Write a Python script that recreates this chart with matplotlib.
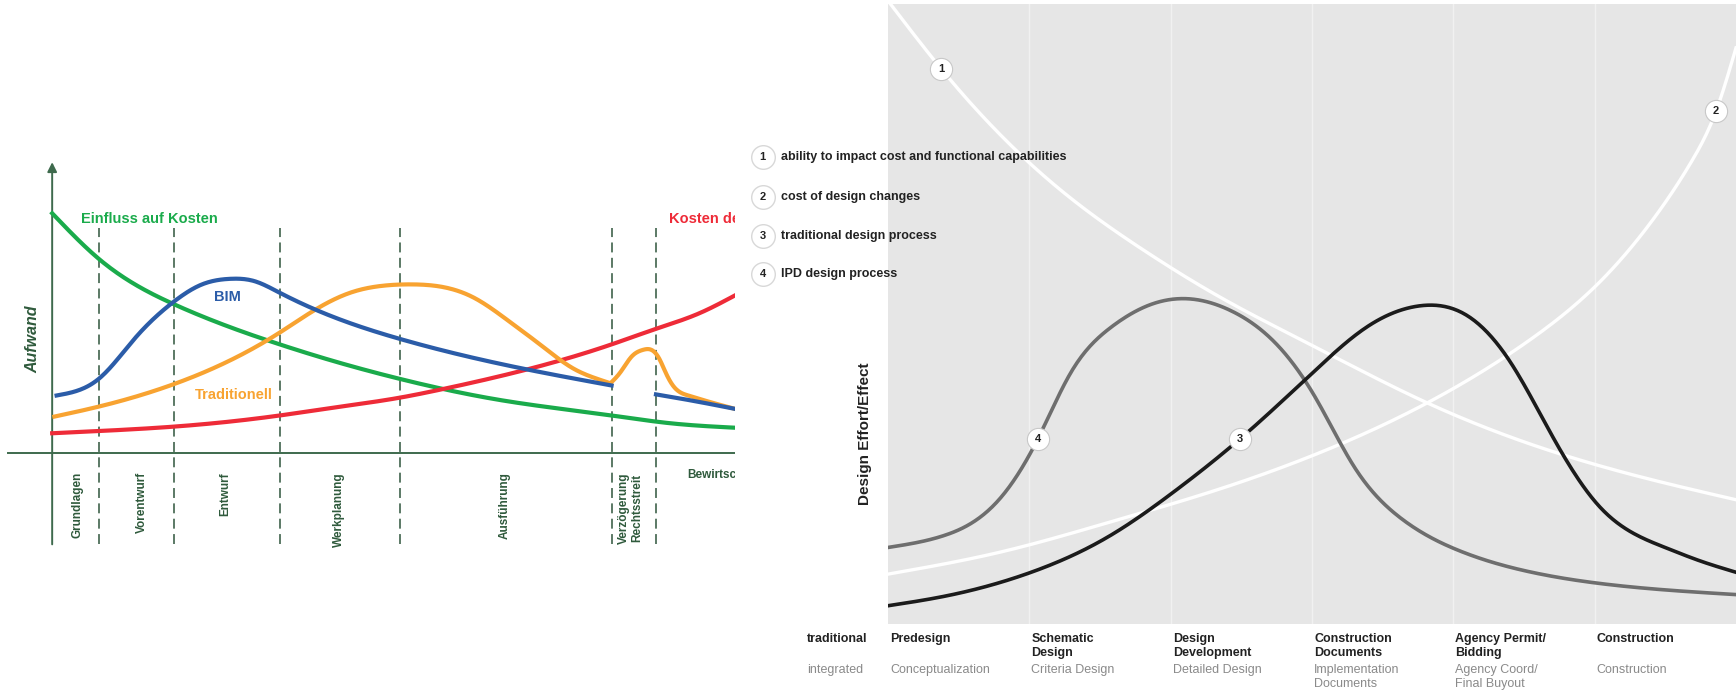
import numpy as np
import matplotlib
matplotlib.use("Agg")
import matplotlib.pyplot as plt

plt.rcParams['font.family'] = ['Liberation Sans', 'DejaVu Sans']

# ---------------------------------------------------------------------------
# Left chart (BIM vs traditionell) : x = time from origin, y = effort
# ---------------------------------------------------------------------------
green_x = [0, 42, 110, 205, 250, 313, 403, 504, 557, 615]
green_y = [216, 175, 134, 98, 84, 67, 48, 34, 27, 23]

red_x = [0, 42, 110, 205, 253, 313, 353, 430, 504, 544, 583, 615]
red_y = [18, 20, 24, 34, 41, 50, 58, 76, 98, 112, 126, 142]

bim_x = [4, 42, 75, 109, 135, 160, 182, 204, 250, 313, 430, 504]
bim_y = [52, 67, 104, 136, 152, 157, 155, 145, 124, 103, 75, 61]
bim2_x = [544, 573, 615]
bim2_y = [53, 48, 40]

trad_x = [2, 42, 109, 204, 240, 270, 300, 325, 350, 380, 410, 442, 470, 491, 503]
trad_y = [33, 42, 62, 108, 131, 145, 151, 152, 150, 140, 120, 96, 76, 67, 63]
trad2_x = [503, 512, 522, 532, 540, 547, 553, 560, 573, 593, 615]
trad2_y = [63, 73, 87, 93, 93, 85, 72, 60, 52, 46, 40]

phase_bounds = [42, 110, 205, 313, 504, 544]
phase_labels = ['Grundlagen', 'Vorentwurf', 'Entwurf', 'Werkplanung',
                'Ausführung', 'Verzögerung\nRechtsstreit']
phase_pos = [23, 81, 156, 258, 408, 521]

# ---------------------------------------------------------------------------
# Right chart (MacLeamy curve) : x = project phase, y = effort (0..1)
# ---------------------------------------------------------------------------
c1_x = [0.02, 0.377, 0.785, 1.257, 1.806, 2.356, 2.984, 3.770, 4.555, 5.340, 6.0]
c1_y = [1.0, 0.896, 0.792, 0.694, 0.604, 0.527, 0.452, 0.362, 0.290, 0.237, 0.201]

c2_x = [0, 0.785, 1.571, 2.356, 3.141, 3.927, 4.555, 5.026, 5.419, 5.694, 5.859, 6.0]
c2_y = [0.081, 0.116, 0.165, 0.219, 0.285, 0.371, 0.461, 0.550, 0.655, 0.750, 0.828, 0.930]

c3_x = [0, 0.393, 1.013, 1.571, 2.018, 2.490, 3.024, 3.377, 3.770, 4.084, 4.398,
        4.712, 5.034, 5.250, 5.498, 5.750, 6.0]
c3_y = [0.030, 0.045, 0.084, 0.143, 0.213, 0.299, 0.410, 0.478, 0.514, 0.500, 0.425,
        0.299, 0.190, 0.150, 0.124, 0.102, 0.084]

c4_x = [0, 0.393, 0.785, 1.060, 1.296, 1.571, 1.885, 2.136, 2.435, 2.749, 3.024,
        3.299, 3.613, 4.029, 4.555, 5.034, 6.0]
c4_y = [0.124, 0.143, 0.201, 0.299, 0.407, 0.478, 0.518, 0.525, 0.505, 0.452, 0.366,
        0.254, 0.174, 0.120, 0.084, 0.066, 0.048]

legend_labels = ['ability to impact cost and functional capabilities',
                 'cost of design changes',
                 'traditional design process',
                 'IPD design process']
marker_pos = [(0.377, 0.896), (5.859, 0.828), (2.490, 0.299), (1.060, 0.299)]

phases_trad = ['Predesign', 'Schematic\nDesign', 'Design\nDevelopment',
               'Construction\nDocuments', 'Agency Permit/\nBidding', 'Construction']
phases_ipd = ['Conceptualization', 'Criteria Design', 'Detailed Design',
              'Implementation\nDocuments', 'Agency Coord/\nFinal Buyout', 'Construction']


def spline(x, y, n=400):
    """natural cubic spline through the read points (for drawing only)"""
    x = np.asarray(x, float); y = np.asarray(y, float)
    N = len(x); h = np.diff(x)
    A = np.zeros((N, N)); r = np.zeros(N)
    A[0, 0] = 1; A[-1, -1] = 1
    for i in range(1, N - 1):
        A[i, i - 1] = h[i - 1]; A[i, i] = 2 * (h[i - 1] + h[i]); A[i, i + 1] = h[i]
        r[i] = 6 * ((y[i + 1] - y[i]) / h[i] - (y[i] - y[i - 1]) / h[i - 1])
    M = np.linalg.solve(A, r)
    xs = np.linspace(x[0], x[-1], n)
    i = np.clip(np.searchsorted(x, xs) - 1, 0, N - 2)
    hi = h[i]; a = x[i + 1] - xs; b = xs - x[i]
    ys = (M[i] * a**3 + M[i + 1] * b**3) / (6 * hi) \
        + (y[i] / hi - M[i] * hi / 6) * a + (y[i + 1] / hi - M[i + 1] * hi / 6) * b
    return xs, ys


W, H = 1564.0, 622.0
fig = plt.figure(figsize=(17.36, 6.91), dpi=100)

# ---------------- left chart ----------------
axl = fig.add_axes([0, 0, 662 / W, 1])
axl.set_xlim(-47, 615)
axl.set_ylim(-214, 408)
axl.axis('off')

axcol = '#3e6a4d'
axl.plot([-40, 615], [0, 0], color=axcol, lw=1.4, zorder=2)
axl.annotate('', xy=(0, 262), xytext=(0, -82),
             arrowprops=dict(arrowstyle='-|>', color=axcol, lw=1.4,
                             mutation_scale=14, shrinkA=0, shrinkB=0))
for xb in phase_bounds:
    axl.plot([xb, xb], [-82, 203], color='#4e6e59', lw=1.3,
             linestyle=(0, (5.5, 3)), zorder=1)

lw = 3.0
axl.plot(*spline(green_x, green_y), color='#1aab4b', lw=lw, zorder=3)
axl.plot(*spline(red_x, red_y), color='#ee2b38', lw=lw, zorder=3)
axl.plot(*spline(trad_x, trad_y), color='#f8a331', lw=lw, zorder=4)
axl.plot(*spline(trad2_x, trad2_y), color='#f8a331', lw=lw, zorder=4)
axl.plot(*spline(bim_x, bim_y), color='#2b5ca8', lw=lw, zorder=5)
axl.plot(*spline(bim2_x, bim2_y), color='#2b5ca8', lw=lw, zorder=5)

axl.text(26, 211, 'Einfluss auf Kosten', color='#1aab4b', fontsize=10.5,
         fontweight='bold', va='center', ha='left')
axl.text(556, 211, 'Kosten der Änderungen', color='#ee2b38', fontsize=10.5,
         fontweight='bold', va='center', ha='left', clip_on=True)
axl.text(158, 141, 'BIM', color='#2b5ca8', fontsize=10.5, fontweight='bold',
         va='center', ha='center')
axl.text(164, 52, 'Traditionell', color='#f8a331', fontsize=10.5,
         fontweight='bold', va='center', ha='center')
axl.text(-17, 103, 'Aufwand', color='#2f5a3c', fontsize=11.5, fontweight='bold',
         style='italic', rotation=90, va='center', ha='center')
for lab, xp in zip(phase_labels, phase_pos):
    axl.text(xp, -17, lab, color='#2f5a3c', fontsize=8.5, fontweight='bold',
             rotation=90, va='top', ha='center', linespacing=1.1)
axl.text(572, -20, 'Bewirtschaftung', color='#2f5a3c', fontsize=8.5,
         fontweight='bold', va='center', ha='left', clip_on=True)

# ---------------- right chart ----------------
axr = fig.add_axes([800 / W, 60 / H, 764 / W, 558 / H])
axr.set_xlim(0, 6)
axr.set_ylim(0, 1)
axr.set_facecolor('#e6e6e6')
for s in axr.spines.values():
    s.set_visible(False)
axr.set_xticks([]); axr.set_yticks([])
for xg in range(1, 6):
    axr.axvline(xg, color='#f1f1f1', lw=1, zorder=1)

axr.plot(*spline(c1_x, c1_y), color='white', lw=2.4, zorder=2)
axr.plot(*spline(c2_x, c2_y), color='white', lw=2.4, zorder=2)
axr.plot(*spline(c4_x, c4_y), color='#6e6e6e', lw=2.6, zorder=3)
axr.plot(*spline(c3_x, c3_y), color='#1b1b1b', lw=2.6, zorder=4)

for k, (mx, my) in enumerate(marker_pos):
    axr.plot(mx, my, 'o', ms=16, mfc='white', mec='#c8c8c8', mew=0.8, zorder=6)
    axr.text(mx, my, str(k + 1), fontsize=8, fontweight='bold', color='#222222',
             ha='center', va='center', zorder=7)

leg_y = [0.754, 0.690, 0.627, 0.565]
for k, (lab, ly) in enumerate(zip(legend_labels, leg_y)):
    axr.plot(-0.887, ly, 'o', ms=17, mfc='white', mec='#d8d8d8', mew=1,
             clip_on=False, zorder=6)
    axr.text(-0.887, ly, str(k + 1), fontsize=8, fontweight='bold',
             color='#222222', ha='center', va='center', zorder=7)
    axr.text(-0.754, ly, lab, fontsize=9, fontweight='bold', color='#222222',
             ha='left', va='center', zorder=7)

axr.text(-0.165, 0.308, 'Design Effort/Effect', rotation=90, fontsize=11,
         fontweight='bold', color='#222222', ha='center', va='center')

axr.text(-0.573, -0.0143, 'traditional', fontsize=9, fontweight='bold',
         color='#222222', ha='left', va='top')
axr.text(-0.573, -0.0645, 'integrated', fontsize=9, color='#8a8a8a',
         ha='left', va='top')
for i, (t1, t2) in enumerate(zip(phases_trad, phases_ipd)):
    axr.text(i + 0.015, -0.0143, t1, fontsize=9, fontweight='bold',
             color='#222222', ha='left', va='top', linespacing=1.15)
    axr.text(i + 0.015, -0.0645, t2, fontsize=9,
             color='#8a8a8a', ha='left', va='top', linespacing=1.15)

fig.savefig('out.png', dpi=100)
